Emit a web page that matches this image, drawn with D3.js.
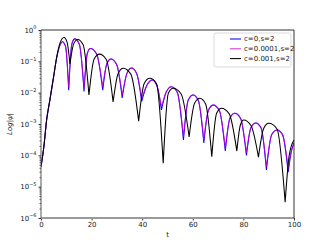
<!DOCTYPE html>
<html>
<head>
<meta charset="utf-8">
<script src="https://cdn.jsdelivr.net/npm/d3@7"></script>
<style>
  body { margin: 0; background: #fff; }
  text { font-family: "DejaVu Sans", sans-serif; }
</style>
</head>
<body>
<script>
// series names / colours (legend order)
const names = ["c=0,s=2", "c=0.0001,s=2", "c=0.001,s=2"];

// [t, |psi|]
const psiC0 = [
  [0,4.3e-5],[1.2,2.1e-4],[2.2,1.3e-3],[3.5,5.8e-3],[4.9,2.9e-2],[6.2,0.13],[7.5,0.33],[8.4,0.42],
  [9.7,0.30],[10.95,0.012],[12.2,0.36],[13.4,0.52],[15.2,0.34],[17.0,0.011],[18.3,0.178],[19.5,0.257],
  [22.0,0.171],[24.4,0.012],[26.0,0.082],[27.6,0.119],[29.9,0.079],[32.1,6.8e-3],[34.0,0.042],[35.8,0.061],
  [37.8,0.041],[39.8,5.3e-3],[41.9,0.0176],[44.0,0.0254],[45.8,0.0169],[47.6,2.8e-3],[49.5,0.0105],[51.5,0.0155],
  [53.9,0.0101],[56.3,3.1e-4],[58.2,5.8e-3],[60.1,8.4e-3],[62.2,5.6e-3],[64.35,2.5e-4],[66.2,2.8e-3],[68.1,4.0e-3],
  [70.5,2.7e-3],[72.85,1.37e-4],[74.7,1.55e-3],[76.6,2.2e-3],[78.9,1.5e-3],[81.2,9.9e-5],[83.0,7.7e-4],[84.9,1.08e-3],
  [87.0,7.4e-4],[89.1,3.4e-5],[91.2,4.6e-4],[93.3,6.4e-4],[95.5,4.5e-4],[97.7,2.9e-5],[98.9,1.28e-4],[100,2.5e-4]
];
const psiC1 = [
  [0,4.3e-5],[1.2,2.1e-4],[2.2,1.3e-3],[3.5,5.8e-3],[4.9,2.9e-2],[6.2,0.13],[7.5,0.33],[8.4,0.42],
  [9.7,0.30],[10.95,0.0148],[12.2,0.36],[13.4,0.52],[15.2,0.34],[17.0,0.0138],[18.3,0.178],[19.5,0.257],
  [22.0,0.171],[24.4,0.0155],[26.0,0.082],[27.6,0.119],[29.9,0.079],[32.1,8.4e-3],[34.0,0.042],[35.8,0.061],
  [37.8,0.041],[39.8,6.6e-3],[41.9,0.0176],[44.0,0.0254],[45.8,0.0169],[47.6,3.5e-3],[49.5,0.0105],[51.5,0.0155],
  [53.9,0.0101],[56.3,3.9e-4],[58.2,5.8e-3],[60.1,8.4e-3],[62.2,5.6e-3],[64.35,3.1e-4],[66.2,2.8e-3],[68.1,4.0e-3],
  [70.5,2.7e-3],[72.85,1.67e-4],[74.7,1.55e-3],[76.6,2.2e-3],[78.9,1.5e-3],[81.2,1.21e-4],[83.0,7.7e-4],[84.9,1.08e-3],
  [87.0,7.4e-4],[89.1,4.3e-5],[91.2,4.6e-4],[93.3,6.4e-4],[95.5,4.5e-4],[97.7,3.7e-5],[98.9,1.28e-4],[100,2.5e-4]
];
const psiC2 = [
  [0,4.3e-5],[1.2,2.1e-4],[2.2,1.3e-3],[3.5,5.8e-3],[4.9,2.9e-2],[6.2,0.137],[7.5,0.38],[9.1,0.58],
  [10.3,0.41],[11.45,0.082],[12.9,0.36],[14.5,0.50],[16.7,0.33],[18.95,8.4e-3],[21.0,0.119],[23.1,0.17],
  [25.8,0.115],[28.5,5.1e-3],[30.5,0.041],[32.5,0.060],[35.5,0.039],[38.6,1.24e-3],[40.8,0.0196],[43.0,0.0287],
  [45.7,0.0189],[48.3,5.6e-5],[50.3,9.4e-3],[52.2,0.0138],[55.4,9.1e-3],[58.55,3.9e-4],[60.7,4.6e-3],[62.8,6.6e-3],
  [65.1,4.3e-3],[67.5,9.0e-5],[69.4,2.2e-3],[71.3,3.2e-3],[74.4,2.1e-3],[77.4,1.37e-4],[78.8,9.3e-4],[80.1,1.34e-3],
  [83.0,9.0e-4],[85.95,8.8e-5],[88.0,7.2e-4],[90.0,1.05e-3],[93.3,6.9e-4],[96.5,3.2e-6],[98.1,1.0e-4],[100,3.1e-4]
];

const xTicks = [0, 20, 40, 60, 80, 100];
const yExps = [-6, -5, -4, -3, -2, -1, 0];

const series = [
  {name: names[0], data: psiC0, color: "#0000ff", opacity: 1},
  {name: names[1], data: psiC1, color: "#cc00cc", opacity: 0.8},
  {name: names[2], data: psiC2, color: "#000000", opacity: 1}
];

var margin = {top: 30, right: 33, bottom: 27, left: 41},
    width = 327 - margin.left - margin.right,
    height = 245 - margin.top - margin.bottom;

var svg = d3.select("body").append("svg")
    .attr("width", 327)
    .attr("height", 245);
var g = svg.append("g")
    .attr("transform", "translate(" + margin.left + "," + margin.top + ")");

var x = d3.scaleLinear().domain([0, 100]).range([0, width]);
var y = d3.scaleLog().domain([1e-6, 1]).range([height, 0]);

g.append("clipPath").attr("id", "clip")
  .append("rect").attr("width", width).attr("height", height);

// split a series at its dips so each arch is its own smooth piece (sharp cusps)
function arches(pts) {
  var segs = [], cur = [pts[0]];
  for (var i = 1; i < pts.length; i++) {
    cur.push(pts[i]);
    if (i < pts.length - 1 && pts[i][1] < pts[i - 1][1] && pts[i][1] < pts[i + 1][1]) {
      segs.push(cur);
      cur = [pts[i]];
    }
  }
  segs.push(cur);
  return segs;
}

var line = d3.line()
    .x(function(d) { return x(d[0]); })
    .y(function(d) { return y(d[1]); })
    .curve(d3.curveMonotoneX);

var plot = g.append("g").attr("clip-path", "url(#clip)");
series.forEach(function(s) {
  plot.append("path")
    .attr("d", arches(s.data).map(line).join(""))
    .attr("fill", "none")
    .attr("stroke", s.color)
    .attr("stroke-opacity", s.opacity)
    .attr("stroke-width", 1.05)
    .attr("stroke-linejoin", "round");
});

// x axis
var xa = g.append("g")
    .attr("transform", "translate(0," + height + ")")
    .call(d3.axisBottom(x).tickValues(xTicks).tickSize(2.5).tickPadding(2));
xa.select(".domain").remove();
xa.selectAll("text").attr("font-size", 7).attr("fill", "#222");
xa.selectAll("line").attr("stroke", "#333");

// y axis, majors + minors
var minors = [];
yExps.slice(0, -1).forEach(function(e) {
  for (var k = 2; k < 10; k++) minors.push(k * Math.pow(10, e));
});
var ym = g.append("g").call(d3.axisLeft(y).tickValues(minors).tickSize(1.5).tickFormat(""));
ym.select(".domain").remove();
ym.selectAll("line").attr("stroke", "#555");

var ya = g.append("g")
    .call(d3.axisLeft(y).tickValues(yExps.map(function(e) { return Math.pow(10, e); }))
      .tickSize(2.5).tickFormat(""));
ya.select(".domain").remove();
ya.selectAll("line").attr("stroke", "#333");

yExps.forEach(function(e) {
  var t = g.append("text")
    .attr("x", -4.5)
    .attr("y", y(Math.pow(10, e)) + 2.5)
    .attr("text-anchor", "end")
    .attr("font-size", 7)
    .attr("fill", "#222");
  t.append("tspan").text("10");
  t.append("tspan").attr("dy", -3.2).attr("font-size", 5).text(e === 0 ? "0" : "\u2212" + (-e));
});

// spines
g.append("line").attr("x1", 0).attr("x2", width).attr("y1", height).attr("y2", height)
  .attr("stroke", "#9a9a9a").attr("stroke-width", 2);
g.append("line").attr("x1", 0).attr("x2", 0).attr("y1", 0).attr("y2", height)
  .attr("stroke", "#555").attr("stroke-width", 1);
g.append("line").attr("x1", 0).attr("x2", width).attr("y1", 0).attr("y2", 0)
  .attr("stroke", "#333").attr("stroke-width", 1);
g.append("line").attr("x1", width).attr("x2", width).attr("y1", 0).attr("y2", height)
  .attr("stroke", "#333").attr("stroke-width", 1);

// axis labels
svg.append("text")
  .attr("x", margin.left + width / 2).attr("y", 237)
  .attr("text-anchor", "middle").attr("font-size", 7).attr("fill", "#222")
  .text("t");
svg.append("text")
  .attr("transform", "translate(12," + (margin.top + height / 2) + ") rotate(-90)")
  .attr("text-anchor", "middle").attr("font-size", 7).attr("font-style", "italic").attr("fill", "#222")
  .text("Log|\u03c8|");

// legend
var lg = svg.append("g").attr("transform", "translate(214,33)");
lg.append("rect")
  .attr("width", 77).attr("height", 34).attr("rx", 2)
  .attr("fill", "#fff").attr("fill-opacity", 0.8)
  .attr("stroke", "#d0d0d0").attr("stroke-width", 0.8);
series.forEach(function(s, i) {
  var ry = 6 + i * 9.8;
  lg.append("line")
    .attr("x1", 16).attr("x2", 27).attr("y1", ry).attr("y2", ry)
    .attr("stroke", s.color).attr("stroke-opacity", s.opacity).attr("stroke-width", 1.05);
  lg.append("text")
    .attr("x", 30).attr("y", ry).attr("dy", "0.35em")
    .attr("font-size", 7).attr("fill", "#222")
    .text(s.name);
});
</script>
</body>
</html>
